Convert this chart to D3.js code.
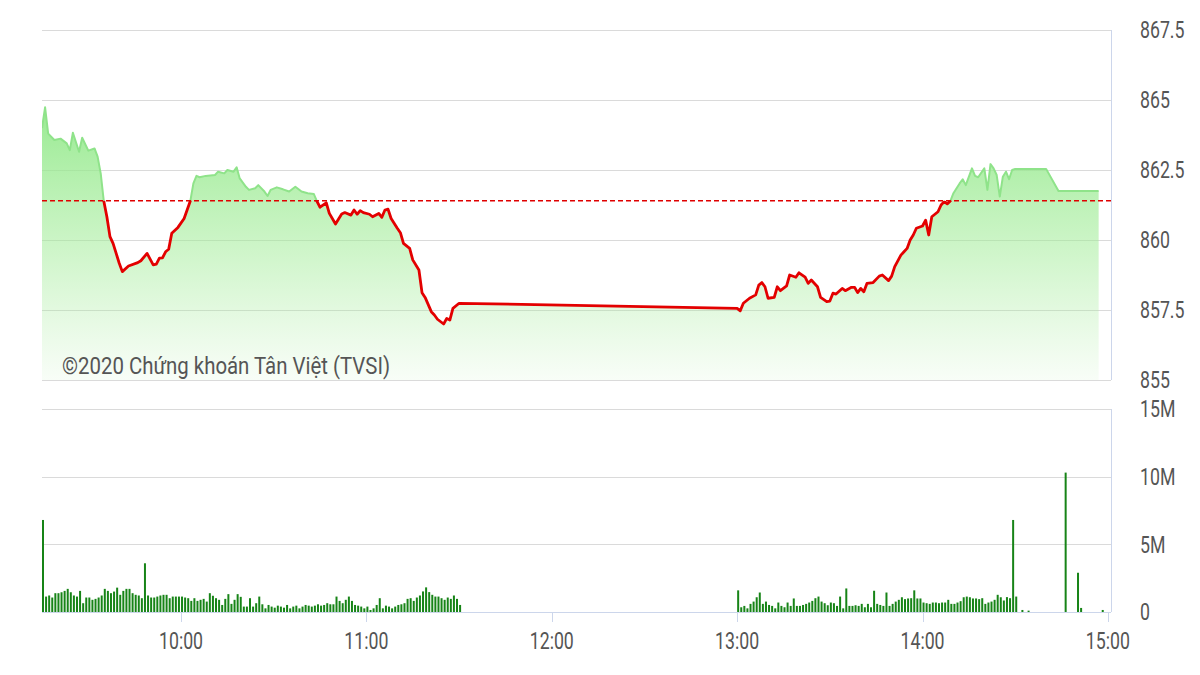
<!DOCTYPE html>
<html>
<head>
<meta charset="utf-8">
<script src="https://cdn.jsdelivr.net/npm/d3@7"></script>
<style>
  html, body { margin: 0; padding: 0; background: #fff; }
  svg { display: block; font-family: Roboto, "Noto Sans", sans-serif; }
</style>
</head>
<body>
<svg id="chart" width="1200" height="675"></svg>
<script>
// ---------- DATA ----------
const priceTimes = ["09:15","09:16","09:17","09:19","09:21","09:23","09:24","09:25","09:27","09:28","09:30","09:32","09:33","09:34","09:35","09:36","09:37","09:38","09:40","09:41","09:43","09:46","09:47","09:49","09:51","09:52","09:53","09:54","09:55","09:56","09:57","09:59","10:01","10:03","10:04","10:05","10:06","10:08","10:11","10:12","10:14","10:15","10:17","10:18","10:19","10:21","10:22","10:24","10:25","10:27","10:28","10:29","10:31","10:33","10:35","10:37","10:39","10:41","10:43","10:44","10:45","10:47","10:48","10:50","10:52","10:53","10:55","10:56","10:57","10:58","10:59","11:01","11:02","11:04","11:05","11:06","11:07","11:08","11:10","11:11","11:12","11:14","11:15","11:17","11:18","11:19","11:21","11:22","11:23","11:25","11:26","11:27","11:28","11:30",
"13:00","13:01","13:02","13:04","13:06","13:07","13:08","13:09","13:10","13:12","13:13","13:14","13:16","13:17","13:19","13:20","13:22","13:23","13:24","13:26","13:27","13:29","13:30","13:31","13:32","13:34","13:35","13:37","13:38","13:39","13:40","13:41","13:42","13:44","13:46","13:47","13:49","13:50","13:51","13:53","13:54","13:55","13:56","13:57","13:58","14:00","14:01","14:02","14:03","14:05","14:06","14:07","14:08","14:09","14:10","14:12","14:13","14:14","14:16","14:17","14:18","14:20","14:21","14:22","14:23","14:24","14:25","14:26","14:27","14:28","14:29","14:30","14:40","14:44","14:57"];
const priceValues = [864.0,864.74,863.8,863.57,863.62,863.45,863.21,863.83,863.15,863.65,863.19,863.27,862.98,862.38,861.39,860.83,860.12,859.88,859.17,858.87,859.07,859.19,859.26,859.52,859.11,859.14,859.35,859.36,859.58,859.67,860.24,860.45,860.77,861.39,862.02,862.29,862.24,862.29,862.32,862.44,862.38,862.5,862.44,862.6,862.2,861.9,861.79,861.85,861.96,861.73,861.57,861.79,861.88,861.81,861.73,861.9,861.73,861.67,861.64,861.38,861.17,861.33,860.95,860.57,860.93,860.98,860.89,861.07,860.92,861.05,860.98,860.92,860.83,860.95,860.81,861.07,861.1,860.77,860.42,860.26,859.88,859.7,859.29,858.93,858.12,857.95,857.44,857.32,857.17,857.0,857.2,857.14,857.56,857.74,
857.56,857.47,857.74,857.92,858.04,858.39,858.48,858.33,857.92,857.95,858.33,858.19,858.36,858.75,858.67,858.83,858.67,858.45,858.57,858.33,857.95,857.8,857.82,858.1,858.07,858.27,858.19,858.31,858.31,858.12,858.27,858.15,858.45,858.48,858.71,858.75,858.55,858.71,859.05,859.46,859.58,859.7,860.0,860.18,860.42,860.5,860.71,860.18,860.83,861.01,861.25,861.37,861.29,861.39,861.67,862.02,862.17,861.96,862.56,862.29,862.24,862.56,861.79,862.71,862.56,862.32,861.55,862.26,862.44,862.17,862.5,862.54,862.54,861.75,861.75];
const referencePrice = 861.4;

// Volume (millions), one bar per minute from the given start time
const volMorningStart = "09:15";
const volMorning = [6.8,
1.14,1.22,1.07,1.39,1.39,1.46,1.56,1.71,1.46,1.22,1.14,1.56,0.65,1.07,1.07,0.90,0.97,1.07,1.22,1.71,1.56,1.39,1.51,1.8,1.27,1.56,1.71,1.71,1.39,1.27,1.22,1.02,
3.6,
1.22,1.07,1.07,1.14,1.22,1.27,1.27,1.02,1.14,1.14,1.14,1.14,1.07,1.02,0.82,1.02,0.82,0.90,0.97,0.77,1.39,1.2,1.02,0.90,0.52,0.97,1.32,0.60,0.90,1.32,1.12,0.40,
0.40,1.02,0.40,0.65,1.14,0.57,0.27,0.52,0.40,0.32,0.47,0.40,0.32,0.52,0.27,0.40,0.47,0.27,0.40,0.52,0.47,0.40,0.47,0.57,0.47,0.52,0.65,0.57,0.57,1.14,0.82,0.65,0.90,1.14,0.82,0.52,0.47,0.40,0.27,0.40,0.15,0.27,0.52,1.02,0.27,0.47,0.40,0.27,0.40,0.52,0.57,0.65,0.97,1.02,0.82,1.07,1.22,1.52,1.82,1.47,1.27,1.14,1.14,1.02,0.90,1.07,0.97,1.22,0.97,0.52];
const volAfternoonStart = "13:00";
const volAfternoon = [1.6,0.35,0.45,0.27,0.6,0.77,1.09,1.44,0.6,0.77,0.52,0.45,0.27,0.70,0.45,0.35,0.70,0.45,1.0,0.45,0.45,0.52,0.6,0.70,0.82,1.02,1.14,0.77,0.65,0.5,0.70,0.65,0.45,1.14,0.27,
1.74,0.45,0.45,0.5,0.45,0.60,0.35,0.60,0.35,1.57,0.60,0.52,0.45,1.44,0.45,0.60,0.77,0.90,1.09,0.95,1.0,1.02,1.60,
1.0,1.0,0.70,0.65,0.60,0.70,0.70,0.65,0.70,0.70,0.90,0.60,0.60,0.70,0.8,1.09,1.14,1.09,1.0,1.0,0.95,1.02,0.60,0.70,0.77,0.9,1.27,1.09,0.85,1.1,1.02,
6.8,1.14];
const volLateTimes = ["14:32","14:34","14:46","14:50","14:51","14:58"];
const volLateValues = [0.15,0.1,10.3,2.9,0.3,0.15];

const priceTicks = [855, 857.5, 860, 862.5, 865, 867.5];
const volTicks = [0, 5, 10, 15];
const volTickLabels = ["0", "5M", "10M", "15M"];
const timeTicks = ["10:00","11:00","12:00","13:00","14:00","15:00"];
const watermark = "©2020 Chứng khoán Tân Việt (TVSI)";

// ---------- BUILD ----------
const parseT = d3.timeParse("%H:%M");
const priceData = priceTimes.map((t, i) => ({ t: parseT(t), v: priceValues[i] }));
const volData = [];
const m0 = parseT(volMorningStart), a0 = parseT(volAfternoonStart);
volMorning.forEach((v, i) => volData.push({ t: d3.timeMinute.offset(m0, i), v }));
volAfternoon.forEach((v, i) => volData.push({ t: d3.timeMinute.offset(a0, i), v }));
volLateTimes.forEach((t, i) => volData.push({ t: parseT(t), v: volLateValues[i] }));

const svg = d3.select("#chart");
const L = 42, R = 1111;
const pTop = 30, pBot = 380, vTop = 409, vBot = 612;

const x = d3.scaleTime().domain([parseT("09:15"), parseT("15:01")]).range([L, R]);
const yP = d3.scaleLinear().domain([855, 867.5]).range([pBot, pTop]);
const yV = d3.scaleLinear().domain([0, 15]).range([vBot, vTop]);

const gridColor = "#dadada", axisColor = "#ccd6eb", textColor = "#555";
const FS = 23, SX = 0.77;

// defs
const defs = svg.append("defs");
const grad = defs.append("linearGradient").attr("id", "areaGrad")
  .attr("gradientUnits", "userSpaceOnUse").attr("x1", 0).attr("y1", yP(865)).attr("x2", 0).attr("y2", pBot);
grad.append("stop").attr("offset", 0).attr("stop-color", "rgb(144,232,136)").attr("stop-opacity", 0.95);
grad.append("stop").attr("offset", 0.55).attr("stop-color", "rgb(160,236,150)").attr("stop-opacity", 0.5);
grad.append("stop").attr("offset", 1).attr("stop-color", "rgb(170,236,160)").attr("stop-opacity", 0.08);
const yRef = yP(referencePrice);
defs.append("clipPath").attr("id", "above").append("rect").attr("x", L).attr("y", pTop - 20).attr("width", R - L).attr("height", yRef - pTop + 20);
defs.append("clipPath").attr("id", "below").append("rect").attr("x", L).attr("y", yRef).attr("width", R - L).attr("height", pBot - yRef);

// price gridlines
svg.append("g").selectAll("line").data(priceTicks).join("line")
  .attr("x1", L).attr("x2", R).attr("y1", d => Math.round(yP(d)) + 0.5).attr("y2", d => Math.round(yP(d)) + 0.5)
  .attr("stroke", gridColor).attr("stroke-width", 1);

// area
const area = d3.area().x(d => x(d.t)).y0(pBot).y1(d => yP(d.v));
svg.append("path").datum(priceData).attr("d", area).attr("fill", "url(#areaGrad)");

// lines
const line = d3.line().x(d => x(d.t)).y(d => yP(d.v));
svg.append("path").datum(priceData).attr("d", line).attr("fill", "none")
  .attr("stroke", "#8fe38a").attr("stroke-width", 2).attr("stroke-linejoin", "round").attr("clip-path", "url(#above)");
svg.append("path").datum(priceData).attr("d", line).attr("fill", "none")
  .attr("stroke", "#e30000").attr("stroke-width", 2.8).attr("stroke-linejoin", "round").attr("clip-path", "url(#below)");

// reference line
svg.append("line").attr("x1", L).attr("x2", R).attr("y1", yRef).attr("y2", yRef)
  .attr("stroke", "#e00000").attr("stroke-width", 1.5).attr("stroke-dasharray", "5,3");

// price right axis line
svg.append("line").attr("x1", R + 0.5).attr("x2", R + 0.5).attr("y1", pTop).attr("y2", pBot)
  .attr("stroke", axisColor).attr("stroke-width", 1);

// price labels
svg.append("g").selectAll("text").data(priceTicks).join("text")
  .attr("transform", d => `translate(1140,${yP(d)}) scale(${SX},1)`)
  .attr("dy", "0.355em").attr("font-size", FS).attr("fill", textColor)
  .text(d => d3.format("")(d));

// watermark
svg.append("text").attr("transform", `translate(62,374) scale(0.85,1)`)
  .attr("font-size", 24).attr("fill", textColor).text(watermark);

// volume gridlines
svg.append("g").selectAll("line").data(volTicks).join("line")
  .attr("x1", L).attr("x2", R).attr("y1", d => Math.round(yV(d)) + 0.5).attr("y2", d => Math.round(yV(d)) + 0.5)
  .attr("stroke", d => d === 0 ? axisColor : gridColor).attr("stroke-width", 1);

// volume bars
svg.append("g").selectAll("rect").data(volData).join("rect")
  .attr("x", d => x(d.t)).attr("width", 2)
  .attr("y", d => yV(d.v)).attr("height", d => vBot - yV(d.v))
  .attr("fill", "#178417");

// volume right axis line
svg.append("line").attr("x1", R + 0.5).attr("x2", R + 0.5).attr("y1", vTop).attr("y2", vBot)
  .attr("stroke", axisColor).attr("stroke-width", 1);

// volume labels
svg.append("g").selectAll("text").data(volTicks).join("text")
  .attr("transform", d => `translate(1140,${yV(d)}) scale(${SX},1)`)
  .attr("dy", "0.355em").attr("font-size", FS).attr("fill", textColor)
  .text((d, i) => volTickLabels[i]);

// x axis ticks and labels
const xt = svg.append("g");
xt.selectAll("line").data(timeTicks).join("line")
  .attr("x1", d => Math.round(x(parseT(d))) + 0.5).attr("x2", d => Math.round(x(parseT(d))) + 0.5)
  .attr("y1", vBot).attr("y2", vBot + 10).attr("stroke", axisColor);
xt.selectAll("text").data(timeTicks).join("text")
  .attr("transform", d => `translate(${x(parseT(d))},641) scale(${SX},1)`)
  .attr("dy", "0.355em").attr("text-anchor", "middle").attr("font-size", FS).attr("fill", textColor)
  .text(d => d);
</script>
</body>
</html>
